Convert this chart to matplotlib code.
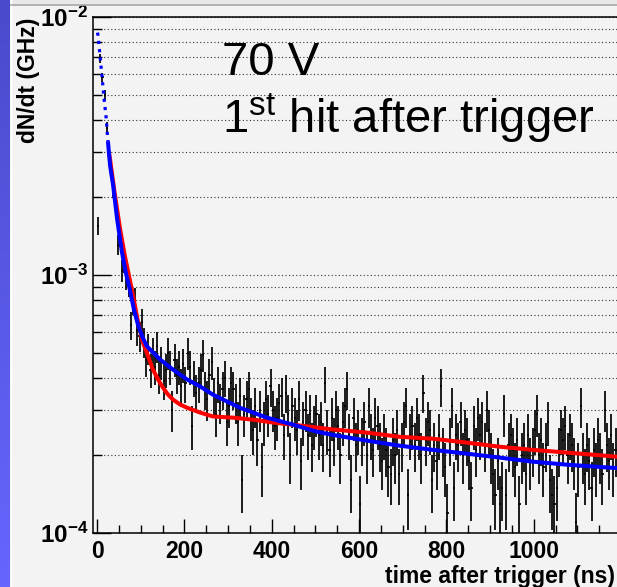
import numpy as np
import matplotlib
matplotlib.use("Agg")
import matplotlib.pyplot as plt
from matplotlib.ticker import MultipleLocator, NullFormatter, LogLocator
from matplotlib.colors import LinearSegmentedColormap
from matplotlib.lines import Line2D
from matplotlib.patches import Rectangle
from matplotlib import transforms

# ---------------- data ----------------
bin_width = 5.0          # ns
rate_per_count = 1e-5    # GHz per histogram entry

counts = [
    155, 690, 585, 500, 372, 305, 258, 214, 182, 131, 140, 104, 112, 97, 92, 64, 79, 80, 61, 58,
    66, 55, 47, 52, 43, 50, 44, 53, 41, 46, 39, 43, 50, 44, 30, 47, 41, 44, 37, 45,
    38, 50, 44, 26, 40, 35, 38, 43, 49, 36, 33, 41, 46, 34, 29, 38, 32, 36, 40, 27,
    31, 38, 36, 32, 27, 34, 16, 29, 33, 36, 28, 25, 31, 23, 30, 18, 27, 33, 29, 37,
    30, 26, 28, 32, 34, 24, 35, 29, 20, 31, 28, 25, 33, 19, 27, 30, 24, 29, 22, 26,
    29, 24, 27, 22, 38, 25, 21, 28, 23, 30, 26, 20, 27, 31, 36, 24, 16, 28, 22, 25,
    13, 23, 27, 20, 31, 24, 21, 28, 26, 22, 19, 24, 21, 18, 17, 23, 20, 25, 17, 22,
    27, 31, 14, 24,
    26, 22, 28, 24, 20, 35, 23, 27, 25, 16, 22, 19, 24, 37, 21, 18, 12, 23, 31, 15,
    24, 22, 27, 20, 25, 23, 19, 15, 26, 21, 28, 24, 27, 22, 30, 25, 20, 17, 14, 19,
    13, 15, 29, 14, 22, 24,
    21, 18, 23, 13, 20, 22, 17, 24, 19, 21, 25, 29, 20, 23, 18, 22, 27, 16, 14, 13,
    15, 21, 25, 23, 26, 20, 24, 22, 19, 11, 18, 31, 20, 17, 22, 19, 15, 21, 18, 23,
    20, 17, 30, 22, 19, 24, 18, 21, 23, 20,
]

# fit curves
blue_t = [1, 2.3, 6.9, 11.4, 16, 20.6, 25, 30, 37, 46, 57, 66, 75, 85, 94, 104, 114,
          144, 174, 206, 236, 265, 327, 389, 449, 503, 540, 618, 693, 769, 847, 922,
          998, 1076, 1200]
blue_v = [8.7e-3, 8.5e-3, 7.05e-3, 5.9e-3, 4.84e-3, 4.12e-3, 3.3e-3, 2.65e-3, 2.22e-3,
          1.65e-3, 1.23e-3, 1.02e-3, 8.8e-4, 7.3e-4, 6.4e-4, 5.75e-4, 5.3e-4,
          4.71e-4, 4.3e-4, 3.94e-4, 3.70e-4, 3.44e-4, 3.06e-4, 2.80e-4, 2.63e-4,
          2.47e-4, 2.40e-4, 2.28e-4, 2.18e-4, 2.10e-4, 2.03e-4, 1.96e-4, 1.89e-4,
          1.84e-4, 1.78e-4]

red_t = [27, 30, 40, 53, 64, 75, 85, 94, 105, 114, 128, 140, 151, 162, 174, 190,
         206, 236, 265, 311, 357, 403, 465, 540, 618, 693, 769, 847, 922, 998, 1076, 1200]
red_v = [3.0e-3, 2.8e-3, 2.1e-3, 1.5e-3, 1.18e-3, 9.6e-4, 7.9e-4, 6.56e-4,
         5.48e-4, 5.0e-4, 4.3e-4, 3.93e-4, 3.66e-4, 3.45e-4, 3.29e-4, 3.15e-4, 3.06e-4,
         2.93e-4, 2.83e-4, 2.80e-4, 2.75e-4, 2.68e-4, 2.61e-4, 2.52e-4, 2.45e-4,
         2.36e-4, 2.32e-4, 2.24e-4, 2.16e-4, 2.10e-4, 2.05e-4, 1.97e-4]

x_ticks = [0, 200, 400, 600, 800, 1000]
x_ticklabels = ["0", "200", "400", "600", "800", "1000"]
y_decades = [1e-4, 1e-3, 1e-2]
y_ticklabels = [r"$\mathbf{10^{-4}}$", r"$\mathbf{10^{-3}}$", r"$\mathbf{10^{-2}}$"]
x_label = "time after trigger (ns)"
y_label = "dN/dt (GHz)"
note1 = "70 V"
note2 = r"1$^{\rm st}$ hit after trigger"

# ---------------- style ----------------
plt.rcParams["font.family"] = ["Liberation Sans", "DejaVu Sans"]
plt.rcParams["mathtext.fontset"] = "custom"
plt.rcParams["mathtext.rm"] = "Liberation Sans"
plt.rcParams["mathtext.bf"] = "Liberation Sans:bold"
plt.rcParams["mathtext.it"] = "Liberation Sans:italic"

W, H = 617, 587
PANEL = "#f3f3f3"
fig = plt.figure(figsize=(W / 100, H / 100), dpi=100, facecolor=PANEL)

# left purple-blue strip
sax = fig.add_axes([0, 0, 10 / W, 1])
cmap = LinearSegmentedColormap.from_list("strip", [(0.29, 0.29, 0.80), (0.40, 0.40, 1.0)])
sax.imshow(np.linspace(0, 1, 256).reshape(-1, 1), aspect="auto", cmap=cmap)
sax.set_axis_off()
fig.add_artist(Line2D([10.6 / W, 10.6 / W], [0, 1], color="white", lw=1.0,
                      transform=fig.transFigure))
fig.add_artist(Rectangle((11 / W, 1 - 4 / H), 1, 4 / H, color="#e9e9e9",
                         transform=fig.transFigure, lw=0))
fig.add_artist(Line2D([11 / W, 1], [1 - 4.5 / H, 1 - 4.5 / H], color="#a8a8a8", lw=1.2,
                      transform=fig.transFigure))

# main axes
ax = fig.add_axes([93 / W, 1 - 533 / H, (621 - 93) / W, (533 - 17) / H])
ax.set_facecolor(PANEL)
ax.set_yscale("log")
ax.set_ylim(1e-4, 1e-2)
ax.set_xlim(-9.2, 1200)

ax.yaxis.set_major_locator(LogLocator(base=10))
ax.yaxis.set_minor_locator(LogLocator(base=10, subs=np.arange(2, 10)))
ax.yaxis.set_major_formatter(NullFormatter())
ax.yaxis.set_minor_formatter(NullFormatter())
ax.yaxis.grid(True, which="both", linestyle=(0, (1, 2.2)), color="#333333", lw=0.8)
ax.set_axisbelow(True)

ax.set_xticks(x_ticks, labels=x_ticklabels, fontweight="bold", fontsize=16.5)
ax.xaxis.set_minor_locator(MultipleLocator(50))
ax.tick_params(axis="x", which="major", direction="in", length=10, width=1, pad=5)
ax.tick_params(axis="x", which="minor", direction="in", length=5.5, width=1)
ax.tick_params(axis="y", which="major", direction="in", length=13, width=1)
ax.tick_params(axis="y", which="minor", direction="in", length=6.5, width=1)
for s in ax.spines.values():
    s.set_linewidth(1.1)
    s.set_color("black")

# y tick labels
lab_tr = transforms.offset_copy(
    transforms.blended_transform_factory(ax.transAxes, ax.transData),
    fig=fig, x=-5, y=-2, units="dots")
for val, txt in zip(y_decades, y_ticklabels):
    ax.text(0, val, txt, transform=lab_tr, ha="right", va="center", fontsize=17.5,
            clip_on=False)

# histogram with error bars
counts_arr = np.array(counts, dtype=float)
t_centers = (np.arange(len(counts_arr)) + 0.5) * bin_width
rate = counts_arr * rate_per_count
err = np.sqrt(counts_arr) * rate_per_count
ax.errorbar(t_centers, rate, yerr=err, xerr=bin_width / 2, fmt="none",
            ecolor="#000000", elinewidth=1.25, capsize=0, zorder=3)

# fits
ax.plot(red_t, red_v, color="#ff0000", lw=2.9, zorder=4, solid_capstyle="butt")
k = blue_t.index(25)
ax.plot(blue_t[k:], blue_v[k:], color="#0000ff", lw=2.9, zorder=5, solid_capstyle="butt")
ax.plot(blue_t[:k + 1], blue_v[:k + 1], color="#0000ff", lw=2.3, zorder=5,
        linestyle=(0, (1, 1.6)), dash_capstyle="butt")

# annotations
fig.text(222 / W, 1 - 75 / H, note1, fontsize=34, ha="left", va="baseline")
fig.text(222 / W, 1 - 133 / H, note2, fontsize=34, ha="left", va="baseline")

fig.text(615 / W, 1 - 577 / H, x_label, fontsize=16.5, fontweight="bold",
         ha="right", va="center")
fig.text(28 / W, 1 - 18 / H, y_label, fontsize=16.5, fontweight="bold",
         rotation=90, ha="center", va="top")

fig.savefig("out.png", dpi=100, facecolor=PANEL)
